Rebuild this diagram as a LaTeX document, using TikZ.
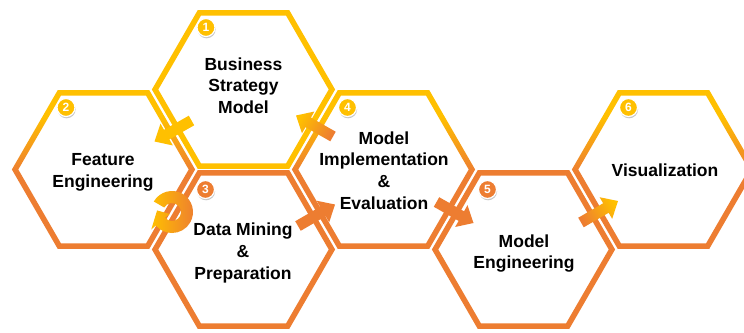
\documentclass[tikz,border=0pt]{standalone}
\usepackage{fontspec}
\setmainfont{Liberation Sans}
\usetikzlibrary{calc,shadows}
\definecolor{hexyel}{HTML}{FFC000}
\definecolor{hexora}{HTML}{ED7D31}
\pgfdeclareverticalshading{hexgrad}{100bp}{color(0bp)=(hexora); color(25bp)=(hexora); color(49bp)=(hexora); color(67bp)=(hexyel); color(100bp)=(hexyel)}
\newcommand\hexring[2]{%
  \begin{scope}[shift={(#1)}]
    \path[#2, even odd rule]
      (0:91.6) -- (60:91.6) -- (120:91.6) -- (180:91.6) -- (240:91.6) -- (300:91.6) -- cycle
      (0:85.2) -- (60:85.2) -- (120:85.2) -- (180:85.2) -- (240:85.2) -- (300:85.2) -- cycle;
  \end{scope}}
\newcommand\blockarrow[3]{%
  \coordinate (ab) at ($(#3)!14pt!(#2)$);
  \path[#1] ($(#2)!5.5pt!90:(#3)$) -- ($(ab)!5.5pt!90:(#3)$) -- ($(ab)!12.5pt!90:(#3)$) -- (#3)
    -- ($(ab)!12.5pt!-90:(#3)$) -- ($(ab)!5.5pt!-90:(#3)$) -- ($(#2)!5.5pt!-90:(#3)$) -- cycle;}
\tikzset{
  lbl/.style={font=\bfseries\fontsize{17.5}{21.7}\selectfont, align=center, text=black, inner sep=0pt},
  badge/.style={circle, draw=white, line width=1.2pt, minimum size=18pt, inner sep=0pt, text=white,
    font=\bfseries\fontsize{12}{12}\selectfont,
    drop shadow={opacity=0.3, shadow xshift=0.6pt, shadow yshift=-1.8pt, fill=black!70}},
}
\begin{document}
\begin{tikzpicture}[x=1pt, y=-1pt]
\useasboundingbox (0,0) rectangle (744,332);
\fill[white] (0,0) rectangle (744,332);
\clip (0,0) rectangle (744,332);
% hexagon centres
\coordinate (c1) at (243.5,89.5);
\coordinate (c2) at (103.5,169.5);
\coordinate (c3) at (243.5,249.5);
\coordinate (c4) at (383.5,169.5);
\coordinate (c5) at (523.5,249.5);
\coordinate (c6) at (663.5,169.5);
% hexagon rings
\hexring{c1}{fill=hexyel}
\hexring{c2}{shade, shading=hexgrad}
\hexring{c3}{fill=hexora}
\hexring{c4}{shade, shading=hexgrad}
\hexring{c5}{fill=hexora}
\hexring{c6}{shade, shading=hexgrad}
% arrow end points
\coordinate (t12) at (191.5,120.5); \coordinate (h12) at (154.5,141.5);
\coordinate (t34) at (298,226);     \coordinate (h34) at (335,204.5);
\coordinate (t41) at (333,136.5);   \coordinate (h41) at (296,115.5);
\coordinate (t45) at (436.5,202);   \coordinate (h45) at (473.5,223);
\coordinate (t56) at (581,222.5);   \coordinate (h56) at (618,201);
\blockarrow{fill=hexyel}{t12}{h12}
\blockarrow{fill=hexora}{t34}{h34}
\blockarrow{top color=hexyel, bottom color=hexora, shading angle=60}{t41}{h41}
\blockarrow{fill=hexora}{t45}{h45}
\blockarrow{top color=hexyel, bottom color=hexora, shading angle=-60}{t56}{h56}
% circular arrow between 2 and 3
\coordinate (cc) at (172,212);
\shade[left color=hexyel, right color=hexora]
  ($(cc)+(-150:21)$) arc[start angle=-150, end angle=140, radius=21]
  -- ($(cc)+(140:27)$) -- ($(cc)+(186:15)$) -- ($(cc)+(140:3)$) -- ($(cc)+(140:9)$)
  arc[start angle=140, end angle=-150, radius=9] -- cycle;
% badges
\node[badge, fill=hexyel] (b1) at ($(c1)+(-37.5,-62)$) {1};
\node[badge, fill=hexyel] (b2) at ($(c2)+(-37.5,-62)$) {2};
\node[badge, fill=hexora] (b3) at ($(c3)+(-38,-60)$) {3};
\node[badge, fill=hexyel] (b4) at ($(c4)+(-36,-62)$) {4};
\node[badge, fill=hexora] (b5) at ($(c5)+(-36,-60)$) {5};
\node[badge, fill=hexyel] (b6) at ($(c6)+(-35,-62)$) {6};
% labels
\node[lbl] (l1) at (243.5,85.5) {Business\\Strategy\\Model};
\node[lbl] (l2) at (103,172) {Feature\\Engineering};
\node[lbl] (l3) at (243,253) {Data Mining\\\&\\Preparation};
\node[lbl] (l4) at (384,170.5) {Model\\Implementation\\\&\\Evaluation};
\node[lbl] (l5) at (524,253.4) {Model\\Engineering};
\node[lbl] (l6) at (665,170) {Visualization};
\end{tikzpicture}
\end{document}
